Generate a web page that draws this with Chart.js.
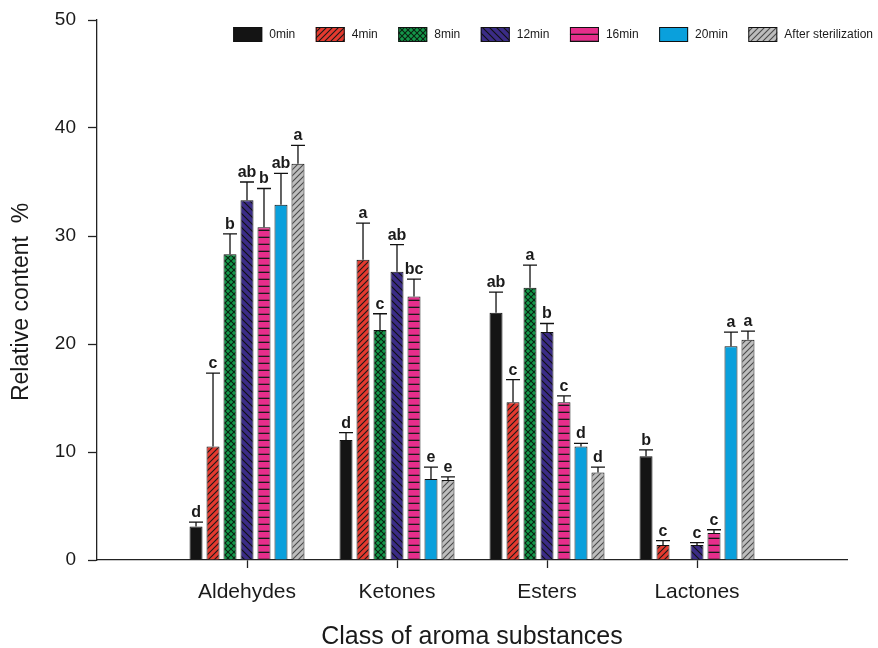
<!DOCTYPE html>
<html>
<head>
<meta charset="utf-8">
<script src="https://cdn.jsdelivr.net/npm/chart.js@4.4.1/dist/chart.umd.min.js"></script>
<style>
  html, body { margin: 0; padding: 0; background: #ffffff; }
  #wrap { width: 878px; height: 648px; }
</style>
</head>
<body>
<div id="wrap"><canvas id="c" width="878" height="648"></canvas></div>
<script>
// ---- data ----
const categories = ['Aldehydes', 'Ketones', 'Esters', 'Lactones'];
const seriesNames = ['0min', '4min', '8min', '12min', '16min', '20min', 'After sterilization'];
const yTicks = [0, 10, 20, 30, 40, 50];
const yTitle = 'Relative content  %';

// mean relative content (%) per class
const mean0min  = [3.1, 11.1, 22.9, 9.6];
const mean4min  = [10.5, 27.8, 14.6, 1.4];
const mean8min  = [28.3, 21.3, 25.2, null];
const mean12min = [33.3, 26.7, 21.1, 1.4];
const mean16min = [30.8, 24.4, 14.6, 2.5];
const mean20min = [32.9, 7.5, 10.5, 19.8];
const meanAfter = [36.7, 7.4, 8.1, 20.4];

// standard deviations (upper error bars)
const sd0min  = [0.4, 0.7, 1.9, 0.6];
const sd4min  = [6.8, 3.4, 2.1, 0.4];
const sd8min  = [1.9, 1.5, 2.1, null];
const sd12min = [1.7, 2.5, 0.8, 0.2];
const sd16min = [3.6, 1.6, 0.6, 0.3];
const sd20min = [2.9, 1.1, 0.3, 1.3];
const sdAfter = [1.7, 0.3, 0.5, 0.8];

// significance letters
const sig0min  = ['d', 'd', 'ab', 'b'];
const sig4min  = ['c', 'a', 'c', 'c'];
const sig8min  = ['b', 'c', 'a', ''];
const sig12min = ['ab', 'ab', 'b', 'c'];
const sig16min = ['b', 'bc', 'c', 'c'];
const sig20min = ['ab', 'e', 'd', 'a'];
const sigAfter = ['a', 'e', 'd', 'a'];

const FONT = '"Liberation Sans", Arial, Helvetica, sans-serif';
const INK = '#1a1a1a';

// ---- fill patterns ----
function tile(size, bg, draw) {
  const cv = document.createElement('canvas');
  cv.width = size; cv.height = size;
  const g = cv.getContext('2d');
  g.fillStyle = bg;
  g.fillRect(0, 0, size, size);
  if (draw) draw(g, size);
  return document.getElementById('c').getContext('2d').createPattern(cv, 'repeat');
}
function slashLines(color, w) {
  return (g, s) => {
    g.strokeStyle = color; g.lineWidth = w;
    g.beginPath();
    g.moveTo(0, s); g.lineTo(s, 0);
    g.moveTo(-1, 1); g.lineTo(1, -1);
    g.moveTo(s - 1, s + 1); g.lineTo(s + 1, s - 1);
    g.stroke();
  };
}
function backLines(color, w) {
  return (g, s) => {
    g.strokeStyle = color; g.lineWidth = w;
    g.beginPath();
    g.moveTo(0, 0); g.lineTo(s, s);
    g.moveTo(-1, s - 1); g.lineTo(1, s + 1);
    g.moveTo(s - 1, -1); g.lineTo(s + 1, 1);
    g.stroke();
  };
}
function crossLines(color, w) {
  return (g, s) => { slashLines(color, w)(g, s); backLines(color, w)(g, s); };
}
function horizLines(color, w) {
  return (g, s) => {
    g.fillStyle = color;
    g.fillRect(0, s - w, s, w);
  };
}

const fills = [
  '#141414',
  tile(6, '#e53a2f', slashLines('#1a1a1a', 1.1)),
  tile(6, '#14984a', crossLines('#0b2412', 1.1)),
  tile(7, '#3b2c86', backLines('#111111', 1.1)),
  tile(7, '#e62e8b', horizLines('#1a1a1a', 1.3)),
  '#0aa0dc',
  tile(6, '#bdbdbd', slashLines('#4a4a4a', 1.1))
];

const means = [mean0min, mean4min, mean8min, mean12min, mean16min, mean20min, meanAfter];
const sds = [sd0min, sd4min, sd8min, sd12min, sd16min, sd20min, sdAfter];
const sigs = [sig0min, sig4min, sig8min, sig12min, sig16min, sig20min, sigAfter];

// pad one empty slot on each side so the classes sit at positions 1..4
const xLabels = [''].concat(categories, ['']);
const pad = arr => [null].concat(arr, [null]);

const datasets = seriesNames.map((name, i) => ({
  label: name,
  data: pad(means[i]),
  sd: pad(sds[i]),
  sig: [''].concat(sigs[i], ['']),
  backgroundColor: fills[i],
  borderColor: '#111111',
  borderWidth: 1,
  borderSkipped: 'bottom',
  categoryPercentage: 0.793,
  barPercentage: 0.765
}));

// ---- error bars + letters ----
const errorBarPlugin = {
  id: 'errorBars',
  afterDatasetsDraw(chart) {
    const ctx = chart.ctx;
    const yScale = chart.scales.y;
    ctx.save();
    chart.data.datasets.forEach((ds, di) => {
      const meta = chart.getDatasetMeta(di);
      meta.data.forEach((bar, j) => {
        const v = ds.data[j];
        const sd = ds.sd[j];
        if (v === null || v === undefined || sd === null) return;
        const yTop = yScale.getPixelForValue(v + sd);
        const yBar = yScale.getPixelForValue(v);
        const half = bar.width / 2 + 0.5;
        ctx.strokeStyle = '#111111';
        ctx.lineWidth = 1.3;
        ctx.beginPath();
        ctx.moveTo(bar.x, yBar);
        ctx.lineTo(bar.x, yTop);
        ctx.moveTo(bar.x - half, yTop);
        ctx.lineTo(bar.x + half, yTop);
        ctx.stroke();
        const s = ds.sig[j];
        if (s) {
          ctx.fillStyle = INK;
          ctx.font = 'bold 16px ' + FONT;
          ctx.textAlign = 'center';
          ctx.textBaseline = 'alphabetic';
          ctx.fillText(s, bar.x, yTop - 5);
        }
      });
    });
    ctx.restore();
  }
};

// ---- legend row inside the plot, right-aligned, plus the rotated y title ----
const legendPlugin = {
  id: 'rowLegend',
  afterDraw(chart) {
    const ctx = chart.ctx;
    const boxW = 29, boxH = 15, gapText = 7, gapItem = 20.5;
    const right = 873, top = 27;
    ctx.save();
    ctx.font = '12px ' + FONT;
    ctx.textBaseline = 'middle';
    ctx.textAlign = 'left';
    let x = right;
    for (let i = chart.data.datasets.length - 1; i >= 0; i--) {
      const ds = chart.data.datasets[i];
      const tw = ctx.measureText(ds.label).width;
      const tx = x - tw;
      const bx = tx - gapText - boxW;
      ctx.fillStyle = ds.backgroundColor;
      ctx.fillRect(bx, top, boxW, boxH);
      ctx.strokeStyle = '#111111';
      ctx.lineWidth = 1;
      ctx.strokeRect(bx + 0.5, top + 0.5, boxW - 1, boxH - 1);
      ctx.fillStyle = INK;
      ctx.fillText(ds.label, tx, top + boxH / 2 + 0.5);
      x = bx - gapItem;
    }
    // y-axis title, sitting a little below the middle of the axis
    const area = chart.chartArea;
    ctx.translate(22, (area.top + area.bottom) / 2 + 12);
    ctx.rotate(-Math.PI / 2);
    ctx.font = '23px ' + FONT;
    ctx.textAlign = 'center';
    ctx.textBaseline = 'middle';
    ctx.fillStyle = INK;
    ctx.fillText(yTitle, 0, 0);
    ctx.restore();
  }
};

new Chart(document.getElementById('c'), {
  type: 'bar',
  data: { labels: xLabels, datasets },
  options: {
    responsive: false,
    animation: false,
    devicePixelRatio: 1,
    layout: { padding: { left: 0, right: 31, top: 20, bottom: 0 } },
    plugins: {
      legend: { display: false },
      tooltip: { enabled: false }
    },
    scales: {
      x: {
        type: 'category',
        offset: false,
        grid: {
          display: true,
          offset: false,
          drawOnChartArea: false,
          drawTicks: true,
          tickLength: 8,
          tickWidth: 1.3,
          tickColor: c => (c.index > 0 && c.index < xLabels.length - 1) ? '#222222' : 'rgba(0,0,0,0)'
        },
        border: { display: true, color: '#222222', width: 1.3 },
        ticks: {
          color: INK,
          font: { family: FONT, size: 21 },
          padding: 12,
          maxRotation: 0,
          autoSkip: false
        },
        title: {
          display: true,
          text: 'Class of aroma substances',
          color: INK,
          font: { family: FONT, size: 25, lineHeight: 0.85 },
          padding: { top: 0, bottom: 0 }
        },
        afterFit: s => { s.height = 88; s.paddingLeft = 0; s.paddingRight = 0; }
      },
      y: {
        min: 0,
        max: 50,
        afterBuildTicks: s => { s.ticks = yTicks.map(v => ({ value: v })); },
        grid: {
          display: true,
          drawOnChartArea: false,
          drawTicks: true,
          tickLength: 9,
          tickWidth: 1.3,
          tickColor: '#222222'
        },
        border: { display: true, color: '#222222', width: 1.3 },
        ticks: {
          color: INK,
          font: { family: FONT, size: 19 },
          padding: 12
        },
        title: { display: false },
        afterFit: s => { s.width = 97; s.paddingTop = 0; s.paddingBottom = 0; }
      }
    }
  },
  plugins: [errorBarPlugin, legendPlugin]
});
</script>
</body>
</html>
